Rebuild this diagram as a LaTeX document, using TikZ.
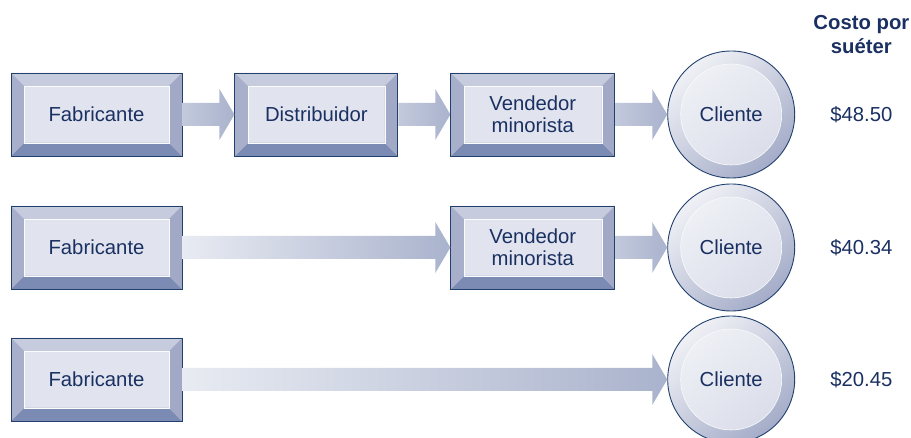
\documentclass[tikz,border=0pt]{standalone}
\usepackage{fontspec}
\setmainfont{Liberation Sans}
\usetikzlibrary{positioning,calc}

\definecolor{edge}{HTML}{22406E}
\definecolor{ink}{HTML}{1A3062}
\definecolor{face}{HTML}{E1E4EE}
\definecolor{bvtop}{HTML}{C6CBDD}
\definecolor{bvleft}{HTML}{A8AFCA}
\definecolor{bvright}{HTML}{A1A9C6}
\definecolor{bvbot}{HTML}{7B8BB3}
\definecolor{arrowlight}{HTML}{E8EBF2}
\definecolor{arrowdark}{HTML}{AAB3CD}
\definecolor{ringlight}{HTML}{F0F1F6}
\definecolor{ringdark}{HTML}{A4ACC8}

% fat shaded arrow from one node to the next
\newcommand\fatarrow[3][]{%
  \path[fatarrow,#1] ($(#2.east)+(0,-11.5)$) -- ($(#3.west)+(-15,-11.5)$)
    -- ($(#3.west)+(-15,-25.5)$) -- (#3.west) -- ($(#3.west)+(-15,25.5)$)
    -- ($(#3.west)+(-15,11.5)$) -- ($(#2.east)+(0,11.5)$) -- cycle;}

\begin{document}
\begin{tikzpicture}[x=1pt, y=-1pt,
    font=\fontsize{20.3}{22}\selectfont,
    node distance=52pt,
    stage/.style={rectangle, draw=edge, line width=0.9pt, minimum width=164pt,
      minimum height=83pt, align=center, text=ink,
      path picture={
        \path (path picture bounding box.north west) coordinate (nw)
              (path picture bounding box.south east) coordinate (se);
        \fill[face] (nw) rectangle (se);
        \fill[bvtop] (nw) -- (nw -| se) -- ($(nw -| se)+(-13,13)$) -- ($(nw)+(13,13)$) -- cycle;
        \fill[bvbot] (se) -- (se -| nw) -- ($(se -| nw)+(13,-13)$) -- ($(se)+(-13,-13)$) -- cycle;
        \fill[bvleft] (nw) -- ($(nw)+(13,13)$) -- ($(se -| nw)+(13,-13)$) -- (se -| nw) -- cycle;
        \fill[bvright] (nw -| se) -- (se) -- ($(se)+(-13,-13)$) -- ($(nw -| se)+(-13,13)$) -- cycle;
        \draw[white!85!face, line width=0.6pt] ($(nw)+(13,13)$) rectangle ($(se)+(-13,-13)$);
      }},
    wide/.style={stage, minimum width=171pt},
    buyer/.style={circle, draw=edge, line width=0.9pt, minimum size=127pt, text=ink,
      top color=ringlight, bottom color=ringdark, shading angle=40,
      path picture={
        \shade[top color=face!50!white, bottom color=face!85!bvleft, shading angle=40,
          draw=white!80!face, line width=0.6pt]
          (path picture bounding box.center) circle (50.5pt);
      }},
    cost/.style={text=ink, inner sep=0pt},
    fatarrow/.style={left color=arrowlight, right color=arrowdark}]

\useasboundingbox (0,0) rectangle (911,438);

% row 1
\node [wide] (fab1) at (96.5,114.5) {Fabricante};
\node [stage, minimum width=163pt] (dis1) [right=of fab1] {Distribuidor};
\node [stage] (ven1) [right=of dis1] {Vendedor\\minorista};
\node [buyer] (cli1) [right=of ven1] {Cliente};
\node [cost] (cost1) [right=35pt of cli1] {\$48.50};

% row 2
\node [wide] (fab2) at (96.5,247.5) {Fabricante};
\node [stage] (ven2) at (ven1 |- fab2) {Vendedor\\minorista};
\node [buyer] (cli2) at (cli1 |- fab2) {Cliente};
\node [cost] (cost2) at (cost1 |- fab2) {\$40.34};

% row 3
\node [wide] (fab3) at (96.5,379.5) {Fabricante};
\node [buyer] (cli3) at (cli1 |- fab3) {Cliente};
\node [cost] (cost3) at (cost1 |- fab3) {\$20.45};

\node [cost, align=center, font=\fontsize{20.3}{24}\selectfont\bfseries] (head) at (cost1 |- 0,35) {Costo por\\suéter};

\fatarrow[left color=arrowlight!40!arrowdark]{fab1}{dis1}
\fatarrow[left color=arrowlight!40!arrowdark]{dis1}{ven1}
\fatarrow[left color=arrowlight!40!arrowdark]{ven1}{cli1}
\fatarrow{fab2}{ven2}
\fatarrow[left color=arrowlight!40!arrowdark]{ven2}{cli2}
\fatarrow{fab3}{cli3}

\end{tikzpicture}
\end{document}
